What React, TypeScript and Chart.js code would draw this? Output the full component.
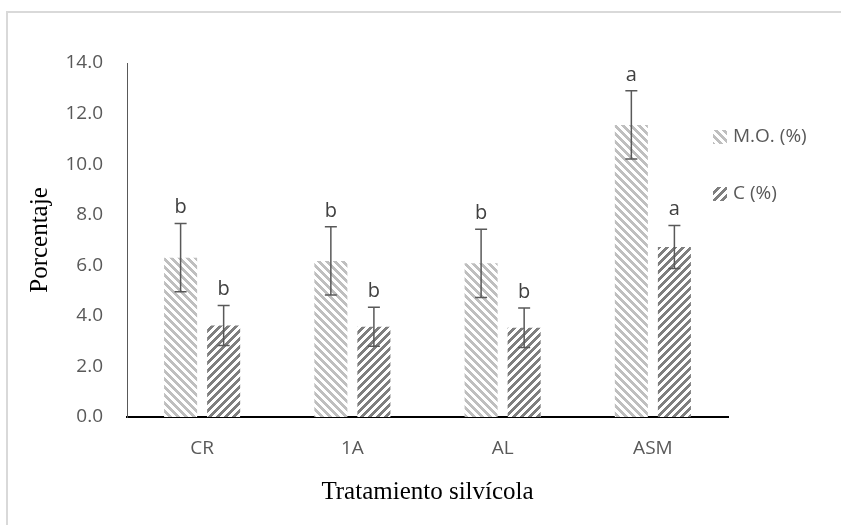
import React, { useEffect, useRef } from 'react';
import { Chart, registerables } from 'chart.js';

Chart.register(...registerables);

const categories = ['CR', '1A', 'AL', 'ASM'];
const seriesNames = ['M.O. (%)', 'C (%)'];
const moValues = [6.3, 6.17, 6.08, 11.55];
const moErrors = [1.35, 1.35, 1.35, 1.35];
const moLetters = ['b', 'b', 'b', 'a'];
const cValues = [3.62, 3.57, 3.53, 6.72];
const cErrors = [0.79, 0.77, 0.78, 0.85];
const cLetters = ['b', 'b', 'b', 'a'];
const yMin = 0;
const yMax = 14;
const yStep = 2;
const xTitle = 'Tratamiento silvícola';
const yTitle = 'Porcentaje';

const errorsBySeries = [moErrors, cErrors];
const lettersBySeries = [moLetters, cLetters];

function makePattern(ctx: CanvasRenderingContext2D, color: string, down: boolean) {
  const c = document.createElement('canvas');
  c.width = 8;
  c.height = 8;
  const g = c.getContext('2d')!;
  g.fillStyle = '#ffffff';
  g.fillRect(0, 0, 8, 8);
  g.fillStyle = color;
  for (let y = 0; y < 8; y++) {
    for (let x = 0; x < 8; x++) {
      const k = down ? (x - y + 16) % 8 : (x + y) % 8;
      if (k < 4) g.fillRect(x, y, 1, 1);
    }
  }
  return ctx.createPattern(c, 'repeat')!;
}

export default function App() {
  const ref = useRef<HTMLCanvasElement | null>(null);

  useEffect(() => {
    const canvas = ref.current!;
    const ctx = canvas.getContext('2d')!;
    const patterns = [makePattern(ctx, '#bfbfbf', true), makePattern(ctx, '#7f7f7f', false)];

    const frame = {
      id: 'frame',
      beforeDraw(chart: any) {
        const c = chart.ctx;
        c.save();
        c.fillStyle = '#ffffff';
        c.fillRect(0, 0, chart.width, chart.height);
        c.strokeStyle = '#d9d9d9';
        c.lineWidth = 2;
        c.beginPath();
        c.moveTo(7, chart.height);
        c.lineTo(7, 12);
        c.lineTo(chart.width, 12);
        c.stroke();
        c.restore();
      },
    };

    const errorBars = {
      id: 'errorBars',
      afterDatasetsDraw(chart: any) {
        const c = chart.ctx;
        const ys = chart.scales.y;
        c.save();
        chart.data.datasets.forEach((ds: any, di: number) => {
          const meta = chart.getDatasetMeta(di);
          meta.data.forEach((bar: any, i: number) => {
            const v = ds.data[i];
            const e = errorsBySeries[di][i];
            const yt = ys.getPixelForValue(v + e);
            const yb = ys.getPixelForValue(v - e);
            const x = bar.x;
            c.strokeStyle = '#595959';
            c.lineWidth = 1.5;
            c.beginPath();
            c.moveTo(x, yt);
            c.lineTo(x, yb);
            c.moveTo(x - 6, yt);
            c.lineTo(x + 6, yt);
            c.moveTo(x - 6, yb);
            c.lineTo(x + 6, yb);
            c.stroke();
            c.fillStyle = '#404040';
            c.font = '20px "Open Sans"';
            c.textAlign = 'center';
            c.textBaseline = 'middle';
            c.fillText(lettersBySeries[di][i], x, yt - 16);
          });
        });
        c.restore();
      },
    };

    const legend = {
      id: 'customLegend',
      afterDraw(chart: any) {
        const c = chart.ctx;
        c.save();
        const rows = [137, 194];
        seriesNames.forEach((name, i) => {
          const y = rows[i];
          c.fillStyle = patterns[i];
          c.fillRect(713, y - 7, 14, 14);
          c.fillStyle = '#595959';
          c.font = '19px "Open Sans"';
          c.textAlign = 'left';
          c.textBaseline = 'middle';
          c.fillText(name, 733, y);
        });
        c.restore();
      },
    };

    const chart = new Chart(ctx, {
      type: 'bar',
      data: {
        labels: categories,
        datasets: [
          {
            label: seriesNames[0],
            data: moValues,
            backgroundColor: patterns[0],
            borderWidth: 0,
            categoryPercentage: 0.573,
            barPercentage: 0.767,
          },
          {
            label: seriesNames[1],
            data: cValues,
            backgroundColor: patterns[1],
            borderWidth: 0,
            categoryPercentage: 0.573,
            barPercentage: 0.767,
          },
        ],
      },
      options: {
        responsive: false,
        animation: false,
        layout: { padding: { left: 0, right: 113, top: 63, bottom: 0 } },
        plugins: {
          legend: { display: false },
          tooltip: { enabled: false },
        },
        scales: {
          x: {
            grid: { display: false, drawTicks: false },
            border: { display: true, color: '#000000', width: 2 },
            ticks: { color: '#595959', font: { family: 'Open Sans', size: 19 }, padding: 20 },
            title: {
              display: true,
              text: xTitle,
              color: '#000000',
              font: { family: 'Liberation Serif', size: 25 },
              padding: { top: 0, bottom: 18 },
            },
            afterFit: (s: any) => {
              s.height = 108;
            },
          },
          y: {
            min: yMin,
            max: yMax,
            grid: { display: false, drawTicks: false },
            border: { display: true, color: '#595959', width: 1 },
            ticks: {
              stepSize: yStep,
              color: '#595959',
              font: { family: 'Open Sans', size: 19 },
              padding: 24,
              callback: (v: any) => Number(v).toFixed(1),
            },
            title: {
              display: true,
              text: yTitle,
              color: '#000000',
              font: { family: 'Liberation Serif', size: 25 },
              padding: { top: 25, bottom: 0 },
            },
            afterFit: (s: any) => {
              s.width = 127;
            },
          },
        },
      },
      plugins: [frame, errorBars, legend],
    } as any);

    return () => chart.destroy();
  }, []);

  return (
    <div style={{ position: 'absolute', left: 0, top: 0, width: 841, height: 525 }}>
      <canvas ref={ref} width={841} height={525} style={{ display: 'block', width: 841, height: 525 }} />
    </div>
  );
}
